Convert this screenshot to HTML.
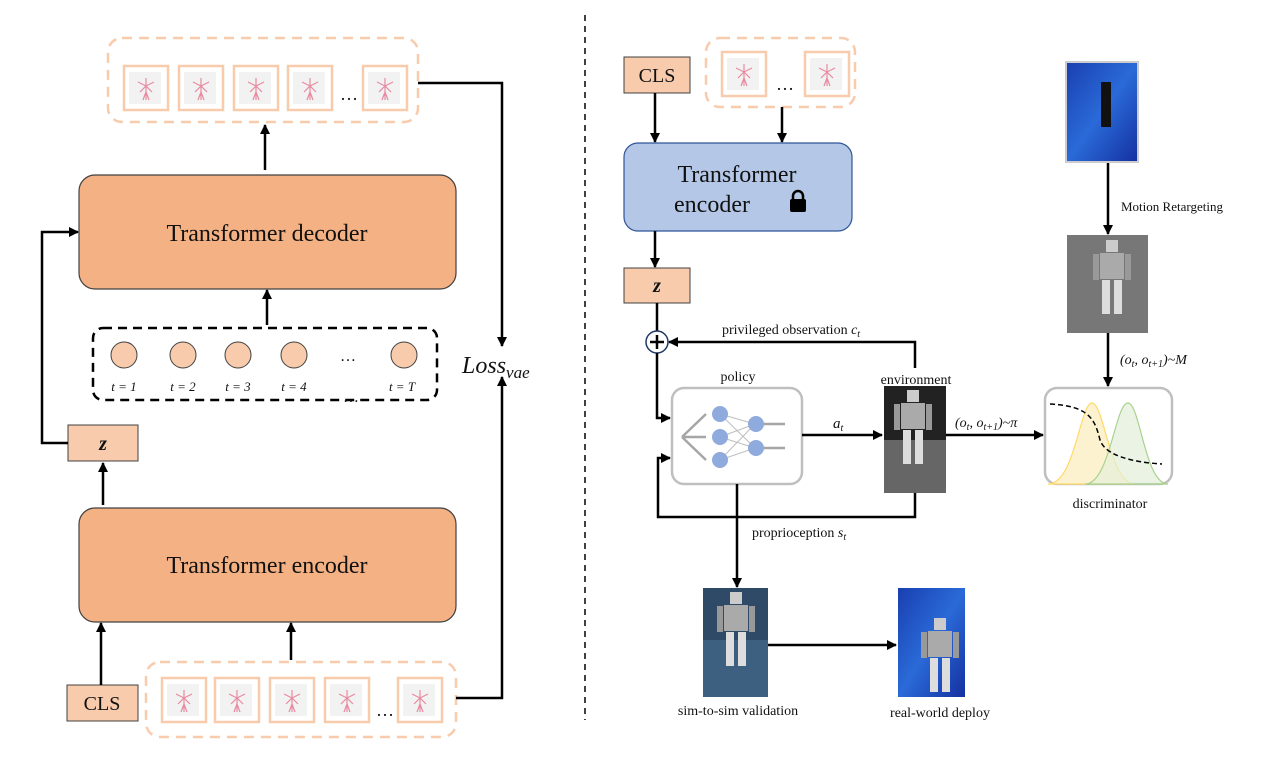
<!DOCTYPE html>
<html><head><meta charset="utf-8"><style>
body{margin:0;background:#fff}
svg{display:block}
text{font-family:"Liberation Serif",serif;fill:#111}
</style></head><body>
<svg width="1280" height="758" viewBox="0 0 1280 758" xmlns="http://www.w3.org/2000/svg">
<defs>
<marker id="ah" markerWidth="10" markerHeight="10" refX="9" refY="5" orient="auto" markerUnits="userSpaceOnUse"><path d="M0,0 L10,5 L0,10 z" fill="#000"/></marker>
<g id="fr">
<rect x="0" y="0" width="44" height="44" fill="#fff" stroke="#f8cbad" stroke-width="2.5"/>
<rect x="5" y="6" width="32" height="32" fill="#f2f2f2"/>
<path d="M22,12 L22,34 M14,16 L22,20 L30,16 M16,26 L22,20 L28,26 M19,34 L22,26 L25,34" stroke="#e88aa0" stroke-width="1.2" fill="none"/>
</g>
<g id="robot">
<rect x="-6" y="0" width="12" height="12" fill="#ccc"/>
<rect x="-12" y="13" width="24" height="26" fill="#aaa"/>
<rect x="-19" y="14" width="6" height="26" fill="#999"/>
<rect x="13" y="14" width="6" height="26" fill="#999"/>
<rect x="-10" y="40" width="8" height="34" fill="#ddd"/>
<rect x="2" y="40" width="8" height="34" fill="#ddd"/>
</g>
<linearGradient id="blue" x1="0" y1="0" x2="1" y2="1"><stop offset="0" stop-color="#1a3fb0"/><stop offset="0.5" stop-color="#2a6ad8"/><stop offset="1" stop-color="#1530a0"/></linearGradient>
</defs>

<!-- LEFT -->
<rect x="108" y="38" width="310" height="84" rx="14" fill="none" stroke="#f8cbad" stroke-width="2.5" stroke-dasharray="10,7"/>
<use href="#fr" x="124" y="66"/><use href="#fr" x="179" y="66"/><use href="#fr" x="234" y="66"/><use href="#fr" x="288" y="66"/><use href="#fr" x="363" y="66"/>
<text x="340" y="100" font-size="18">…</text>
<line x1="265" y1="170" x2="265" y2="125" stroke="#000" stroke-width="2.5" marker-end="url(#ah)"/>
<rect x="79" y="175" width="377" height="114" rx="16" fill="#f4b183" stroke="#404040" stroke-width="1.2"/>
<text x="267" y="241" font-size="24" text-anchor="middle">Transformer decoder</text>
<line x1="267" y1="325" x2="267" y2="290" stroke="#000" stroke-width="2.5" marker-end="url(#ah)"/>
<rect x="93" y="328" width="344" height="72" rx="10" fill="none" stroke="#000" stroke-width="2.5" stroke-dasharray="9,6"/>
<g fill="#f8cbad" stroke="#404040" stroke-width="1">
<circle cx="124" cy="355" r="13"/><circle cx="183" cy="355" r="13"/><circle cx="238" cy="355" r="13"/><circle cx="294" cy="355" r="13"/><circle cx="404" cy="355" r="13"/></g>
<g font-size="13" font-style="italic" text-anchor="middle">
<text x="124" y="391">t = 1</text><text x="183" y="391">t = 2</text><text x="238" y="391">t = 3</text><text x="294" y="391">t = 4</text><text x="402" y="391">t = T</text></g>
<text x="340" y="361" font-size="16">…</text><text x="343" y="402" font-size="16">…</text>
<rect x="68" y="425" width="70" height="36" fill="#f8cbad" stroke="#404040" stroke-width="1"/>
<text x="103" y="450" font-size="20" font-style="italic" text-anchor="middle" font-weight="bold">z</text>
<polyline points="68,443 42,443 42,232 78,232" fill="none" stroke="#000" stroke-width="2.5" marker-end="url(#ah)"/>
<line x1="103" y1="505" x2="103" y2="463" stroke="#000" stroke-width="2.5" marker-end="url(#ah)"/>
<rect x="79" y="508" width="377" height="114" rx="16" fill="#f4b183" stroke="#404040" stroke-width="1.2"/>
<text x="267" y="573" font-size="24" text-anchor="middle">Transformer encoder</text>
<rect x="67" y="685" width="71" height="36" fill="#f8cbad" stroke="#404040" stroke-width="1"/>
<text x="102" y="710" font-size="20" text-anchor="middle">CLS</text>
<line x1="101" y1="685" x2="101" y2="623" stroke="#000" stroke-width="2.5" marker-end="url(#ah)"/>
<rect x="146" y="662" width="310" height="75" rx="14" fill="none" stroke="#f8cbad" stroke-width="2.5" stroke-dasharray="10,7"/>
<use href="#fr" x="162" y="678"/><use href="#fr" x="215" y="678"/><use href="#fr" x="270" y="678"/><use href="#fr" x="325" y="678"/><use href="#fr" x="398" y="678"/>
<text x="376" y="716" font-size="18">…</text>
<line x1="291" y1="660" x2="291" y2="623" stroke="#000" stroke-width="2.5" marker-end="url(#ah)"/>
<polyline points="418,83 502,83 502,346" fill="none" stroke="#000" stroke-width="2.5" marker-end="url(#ah)"/>
<polyline points="456,698 502,698 502,377" fill="none" stroke="#000" stroke-width="2.5" marker-end="url(#ah)"/>
<text x="462" y="373" font-size="24" font-style="italic">Loss<tspan font-size="17" dy="5">vae</tspan></text>

<line x1="585" y1="15" x2="585" y2="720" stroke="#000" stroke-width="1.5" stroke-dasharray="6,5"/>

<!-- RIGHT -->
<rect x="624" y="57" width="66" height="36" fill="#f8cbad" stroke="#404040" stroke-width="1"/>
<text x="657" y="82" font-size="20" text-anchor="middle">CLS</text>
<line x1="655" y1="93" x2="655" y2="142" stroke="#000" stroke-width="2.5" marker-end="url(#ah)"/>
<rect x="706" y="38" width="149" height="69" rx="14" fill="none" stroke="#f8cbad" stroke-width="2.5" stroke-dasharray="10,7"/>
<use href="#fr" x="722" y="52"/><use href="#fr" x="805" y="52"/>
<text x="776" y="90" font-size="18">…</text>
<line x1="782" y1="107" x2="782" y2="142" stroke="#000" stroke-width="2.5" marker-end="url(#ah)"/>
<rect x="624" y="143" width="228" height="88" rx="14" fill="#b4c7e7" stroke="#2f5597" stroke-width="1.2"/>
<text x="737" y="182" font-size="24" text-anchor="middle">Transformer</text>
<text x="712" y="212" font-size="24" text-anchor="middle">encoder</text>
<rect x="790" y="199" width="16" height="13" rx="2" fill="#000"/>
<path d="M793,200 v-4 a5,5 0 0 1 10,0 v4" fill="none" stroke="#000" stroke-width="2.5"/>
<line x1="655" y1="231" x2="655" y2="267" stroke="#000" stroke-width="2.5" marker-end="url(#ah)"/>
<rect x="624" y="268" width="66" height="35" fill="#f8cbad" stroke="#404040" stroke-width="1"/>
<text x="657" y="292" font-size="20" font-style="italic" font-weight="bold" text-anchor="middle">z</text>
<line x1="657" y1="303" x2="657" y2="331" stroke="#000" stroke-width="2.5"/>
<circle cx="657" cy="342" r="11" fill="#fff" stroke="#1f3864" stroke-width="1.5"/>
<path d="M650,342 h14 M657,335 v14" stroke="#000" stroke-width="2.5"/>
<polyline points="657,353 657,418 670,418" fill="none" stroke="#000" stroke-width="2.5" marker-end="url(#ah)"/>
<polyline points="915,368 915,342 669,342" fill="none" stroke="#000" stroke-width="2.5" marker-end="url(#ah)"/>
<text x="722" y="334" font-size="14">privileged observation <tspan font-style="italic">c</tspan><tspan font-size="10" dy="3" font-style="italic">t</tspan></text>
<text x="738" y="381" font-size="14" text-anchor="middle">policy</text>
<rect x="672" y="388" width="130" height="96" rx="12" fill="#fff" stroke="#bfbfbf" stroke-width="2.5"/>
<g stroke="#a6a6a6" stroke-width="2.5" fill="none">
<path d="M682,437 L706,414 M682,437 L706,437 M682,437 L706,460"/>
<path d="M758,424 L785,424 M758,448 L785,448"/></g>
<g stroke="#bfbfbf" stroke-width="1"><path d="M720,414 L755,424 M720,414 L755,448 M720,437 L755,424 M720,437 L755,448 M720,460 L755,424 M720,460 L755,448"/></g>
<g fill="#8faadc"><circle cx="720" cy="414" r="8"/><circle cx="720" cy="437" r="8"/><circle cx="720" cy="460" r="8"/><circle cx="756" cy="424" r="8"/><circle cx="756" cy="448" r="8"/></g>
<line x1="802" y1="435" x2="882" y2="435" stroke="#000" stroke-width="2.5" marker-end="url(#ah)"/>
<text x="833" y="428" font-size="15" font-style="italic">a<tspan font-size="10" dy="3">t</tspan></text>
<text x="916" y="384" font-size="14" text-anchor="middle">environment</text>
<rect x="884" y="386" width="62" height="107" fill="#222"/>
<rect x="884" y="440" width="62" height="53" fill="#666"/>
<use href="#robot" x="913" y="390"/>
<line x1="946" y1="435" x2="1043" y2="435" stroke="#000" stroke-width="2.5" marker-end="url(#ah)"/>
<text x="955" y="427" font-size="14" font-style="italic">(o<tspan font-size="10" dy="3">t</tspan><tspan dy="-3">, o</tspan><tspan font-size="10" dy="3">t+1</tspan><tspan dy="-3">)~π</tspan></text>
<rect x="1045" y="388" width="127" height="96" rx="12" fill="#fff" stroke="#bfbfbf" stroke-width="2.5"/>
<path d="M1048,484 C1075,484 1080,403 1092,403 C1104,403 1110,484 1135,484 Z" fill="#fdf2d0" stroke="#ffd966" stroke-width="1.2"/>
<path d="M1085,484 C1110,484 1115,403 1128,403 C1140,403 1145,484 1168,484 Z" fill="#e2efd9" fill-opacity="0.7" stroke="#a9d18e" stroke-width="1.2"/>
<path d="M1050,404 C1090,406 1095,420 1100,440 C1105,455 1130,462 1162,464" fill="none" stroke="#000" stroke-width="1.5" stroke-dasharray="5,3"/>
<text x="1110" y="508" font-size="14" text-anchor="middle">discriminator</text>
<polyline points="915,493 915,517 658,517 658,458 670,458" fill="none" stroke="#000" stroke-width="2.5" marker-end="url(#ah)"/>
<line x1="737" y1="484" x2="737" y2="587" stroke="#000" stroke-width="2.5" marker-end="url(#ah)"/>
<text x="752" y="537" font-size="14">proprioception  <tspan font-style="italic">s</tspan><tspan font-size="10" dy="3" font-style="italic">t</tspan></text>
<rect x="703" y="588" width="65" height="109" fill="#2e4a66"/>
<rect x="703" y="640" width="65" height="57" fill="#3e6080"/>
<use href="#robot" x="736" y="592"/>
<text x="738" y="715" font-size="14" text-anchor="middle">sim-to-sim validation</text>
<line x1="768" y1="645" x2="896" y2="645" stroke="#000" stroke-width="2.5" marker-end="url(#ah)"/>
<rect x="898" y="588" width="67" height="109" fill="url(#blue)"/>
<use href="#robot" x="940" y="618"/>
<text x="940" y="717" font-size="14" text-anchor="middle">real-world deploy</text>
<rect x="1066" y="62" width="72" height="100" fill="url(#blue)" stroke="#ccc" stroke-width="2"/>
<rect x="1101" y="82" width="10" height="45" fill="#111"/>
<line x1="1108" y1="163" x2="1108" y2="234" stroke="#000" stroke-width="2.5" marker-end="url(#ah)"/>
<text x="1121" y="211" font-size="13">Motion Retargeting</text>
<rect x="1067" y="235" width="81" height="98" fill="#777"/>
<use href="#robot" x="1112" y="240"/>
<line x1="1108" y1="333" x2="1108" y2="386" stroke="#000" stroke-width="2.5" marker-end="url(#ah)"/>
<text x="1120" y="364" font-size="14" font-style="italic">(o<tspan font-size="10" dy="3">t</tspan><tspan dy="-3">, o</tspan><tspan font-size="10" dy="3">t+1</tspan><tspan dy="-3">)~M</tspan></text>
</svg>
</body></html>
